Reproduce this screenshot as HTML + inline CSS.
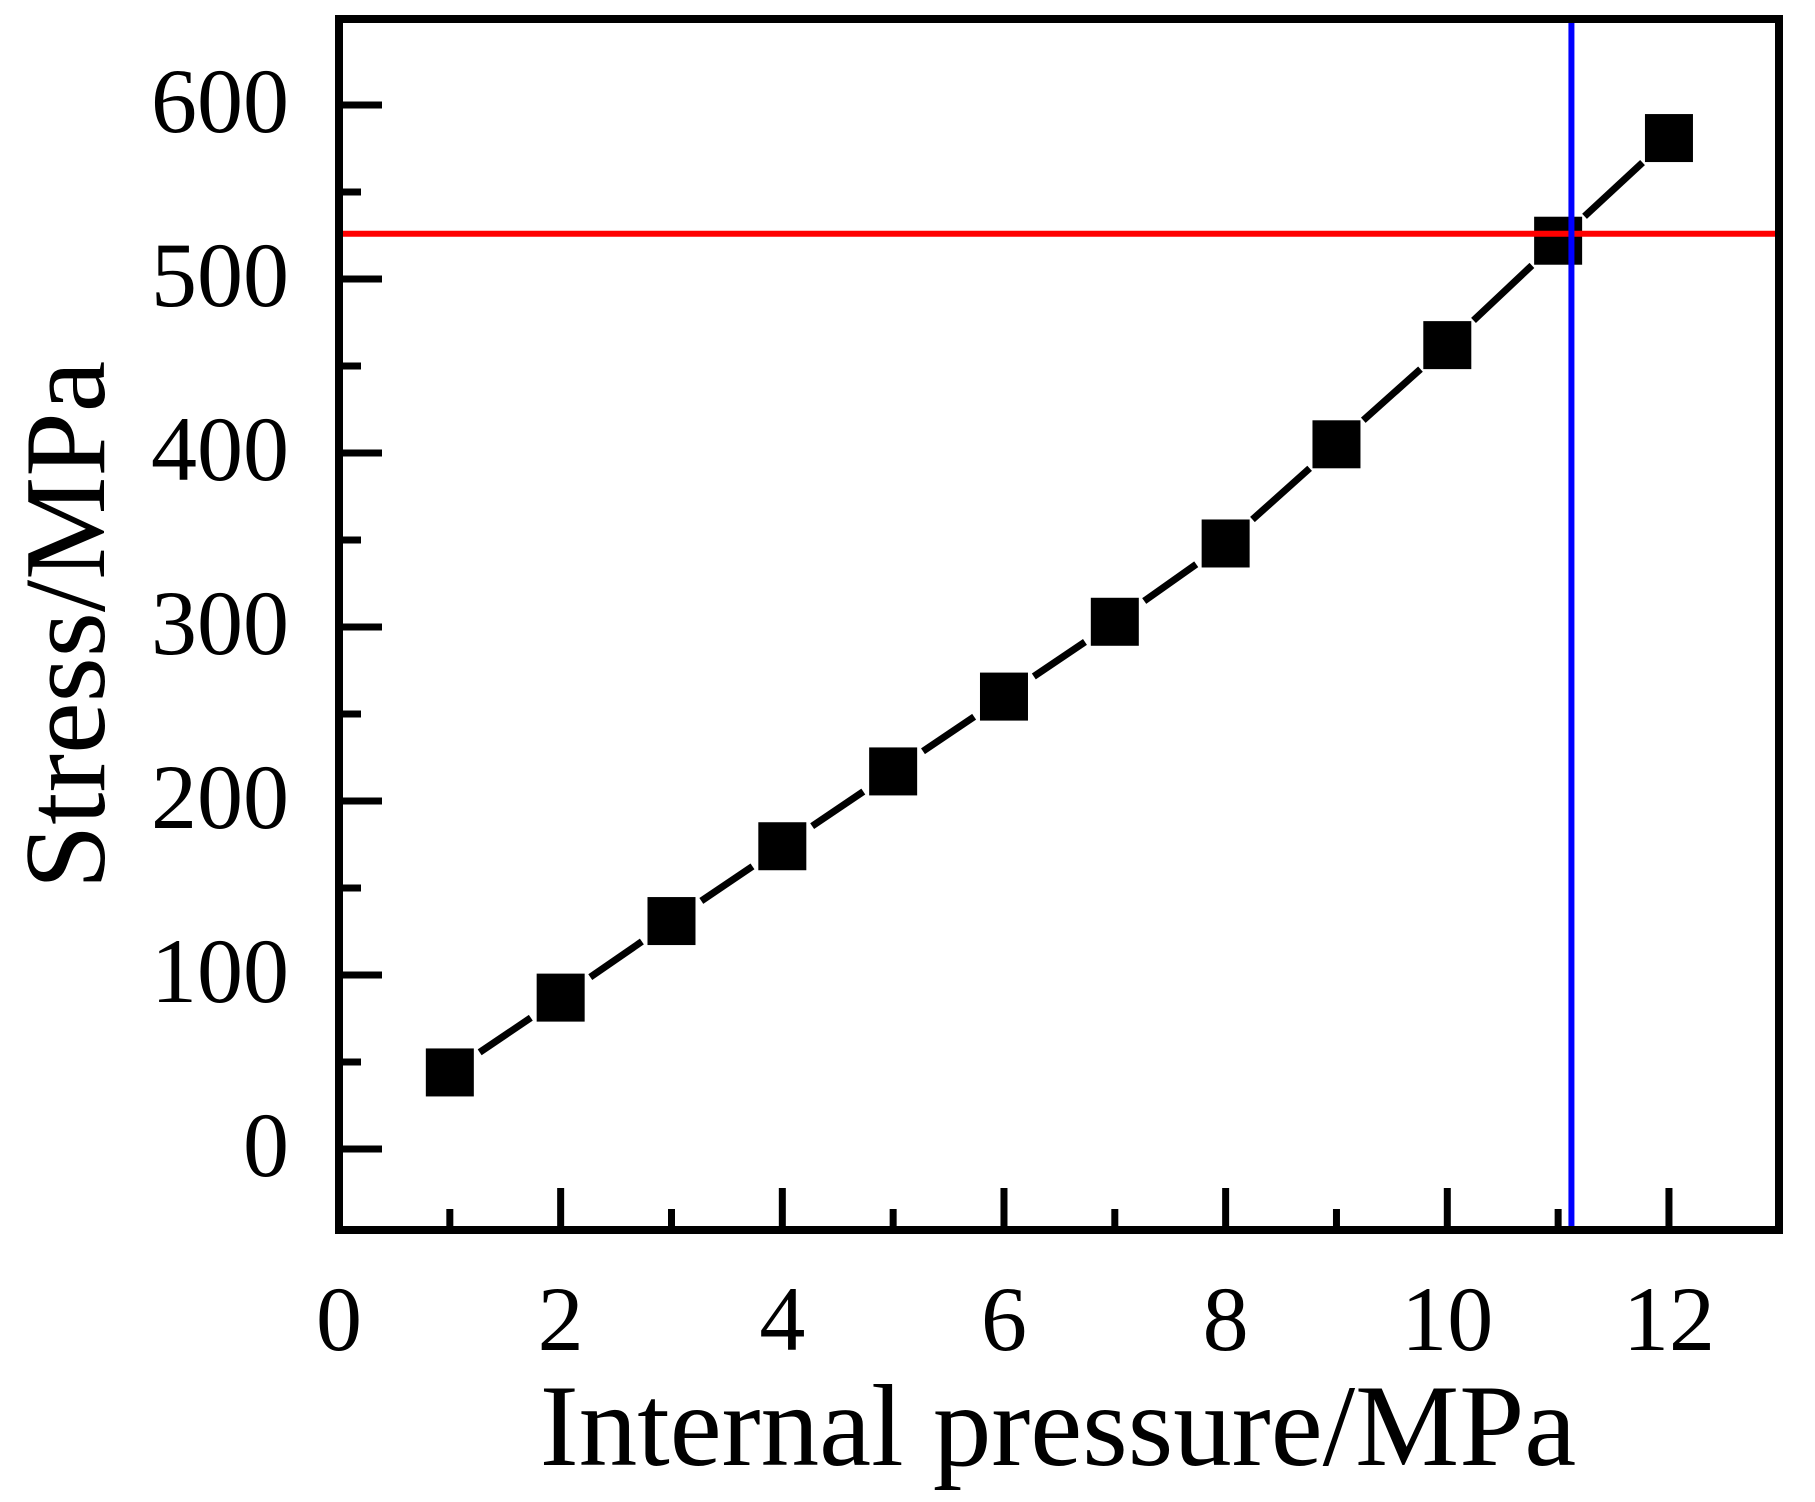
<!DOCTYPE html>
<html><head><meta charset="utf-8"><style>
html,body{margin:0;padding:0;background:#fff;}
svg{display:block;}
text{font-family:"Liberation Serif",serif;fill:#000;}
</style></head><body>
<svg id="chart" width="1815" height="1502" viewBox="0 0 1815 1502" xmlns="http://www.w3.org/2000/svg">
<g id="plot"></g>
</svg>
<script>
const pressures = [1,2,3,4,5,6,7,8,9,10,11,12];
const stresses = [44,87,131,174,217,260,303,348,405,462,522,581];
const xTicks = [0,2,4,6,8,10,12];
const xMinor = [1,3,5,7,9,11];
const yTicks = [0,100,200,300,400,500,600];
const yMinor = [50,150,250,350,450,550];
const yieldStress = [526];
const limitPressure = [11.12];

const NS='http://www.w3.org/2000/svg';
const L=339,R=1779,T=19,B=1230;
function xs(v){return 339+v*110.83;}
function ys(v){return 1149-v*1.74;}
const g=document.getElementById('plot');
function el(t,a,p){const e=document.createElementNS(NS,t);for(const k in a)e.setAttribute(k,a[k]);(p||g).appendChild(e);return e;}

for(let i=0;i<pressures.length-1;i++){
  const x1=xs(pressures[i]),y1=ys(stresses[i]),x2=xs(pressures[i+1]),y2=ys(stresses[i+1]);
  const dx=x2-x1,dy=y2-y1,len=Math.hypot(dx,dy),gap=36;
  const s=el('line',{x1:x1+dx*gap/len,y1:y1+dy*gap/len,x2:x2-dx*gap/len,y2:y2-dy*gap/len,stroke:'#000','stroke-width':7});
  
  
}
for(let i=0;i<pressures.length;i++){
  const m=el('rect',{x:xs(pressures[i])-24,y:ys(stresses[i])-24,width:48,height:48,fill:'#000'});
  
  
}
const rl=el('line',{x1:L,x2:R,y1:ys(yieldStress[0]),y2:ys(yieldStress[0]),stroke:'#ff0000','stroke-width':6});


const bl=el('line',{x1:xs(limitPressure[0]),x2:xs(limitPressure[0]),y1:T,y2:B,stroke:'#0000ff','stroke-width':6});



xTicks.forEach(v=>{
  const t=el('line',{x1:xs(v),x2:xs(v),y1:B,y2:B-42,stroke:'#000','stroke-width':7});
  
  
  const lb=el('text',{x:xs(v),y:1350,'text-anchor':'middle','font-size':92});
  lb.textContent=v;
  
  
});
xMinor.forEach(v=>{
  const t=el('line',{x1:xs(v),x2:xs(v),y1:B,y2:B-21,stroke:'#000','stroke-width':7});
  
  
});
yTicks.forEach(v=>{
  const t=el('line',{x1:L,x2:L+43,y1:ys(v),y2:ys(v),stroke:'#000','stroke-width':7});
  
  
  const lb=el('text',{x:289,y:ys(v)+27,'text-anchor':'end','font-size':92});
  lb.textContent=v;
  
  
});
yMinor.forEach(v=>{
  const t=el('line',{x1:L,x2:L+22,y1:ys(v),y2:ys(v),stroke:'#000','stroke-width':7});
  
  
});
const fr=el('rect',{x:L,y:T,width:R-L,height:B-T,fill:'none',stroke:'#000','stroke-width':8});


const xt=el('text',{x:1058,y:1465,'text-anchor':'middle','font-size':117});
xt.textContent='Internal pressure/MPa';


const yt=el('text',{x:0,y:0,'text-anchor':'middle','font-size':116,transform:'translate(104,625) rotate(-90)'});
yt.textContent='Stress/MPa';


</script>
</body></html>
